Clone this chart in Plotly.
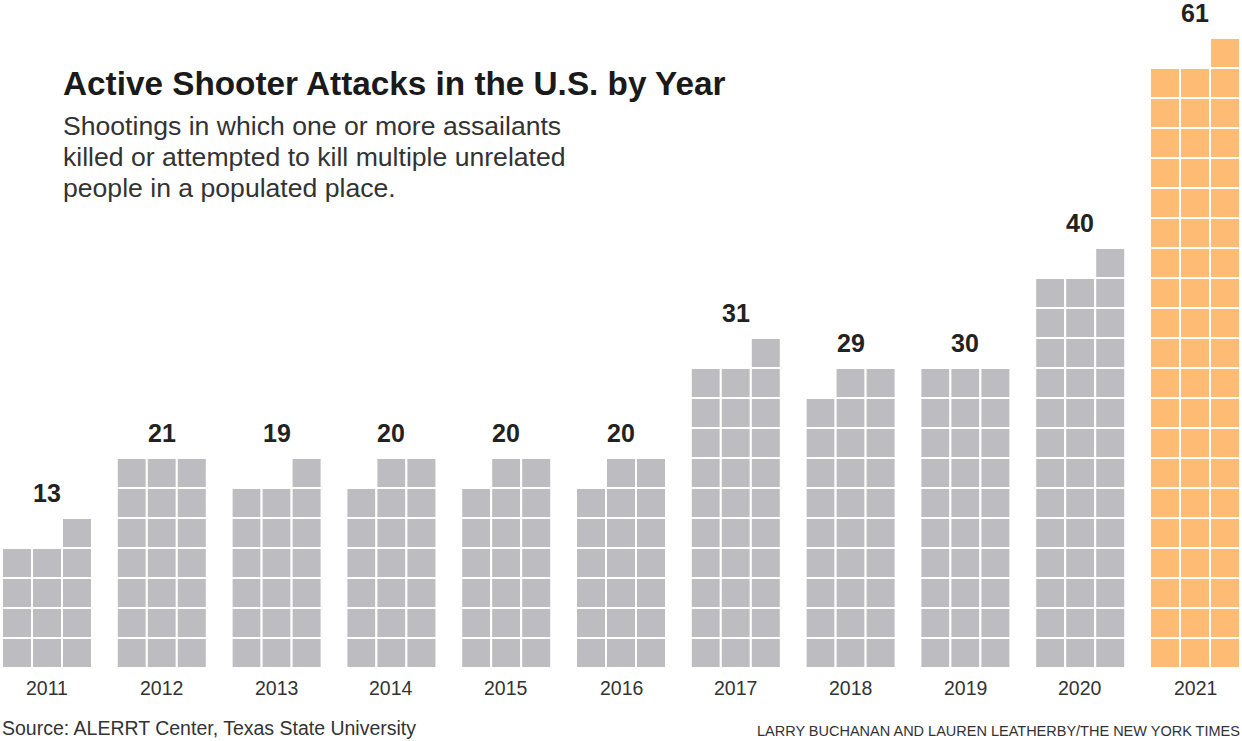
import plotly.graph_objects as go

years = ["2011", "2012", "2013", "2014", "2015", "2016", "2017", "2018", "2019", "2020", "2021"]
counts = [13, 21, 19, 20, 20, 20, 31, 29, 30, 40, 61]
highlight = ["2021"]
title = "Active Shooter Attacks in the U.S. by Year"
subtitle_lines = [
    "Shootings in which one or more assailants",
    "killed or attempted to kill multiple unrelated",
    "people in a populated place.",
]
source = "Source: ALERRT Center, Texas State University"
credit = "LARRY BUCHANAN AND LAUREN LEATHERBY/THE NEW YORK TIMES"

GRAY = "#bdbdc1"
ORANGE = "#fdbb74"
FONT = "Liberation Sans, Arial, sans-serif"
COLS = 3
CELL = 30          # px per cell (x axis uses pixel units)
PITCH = 114.8      # px between year groups
X0 = 2             # left edge of first group

cx, cbase, ccol = [], [], []
group_centers, tops = [], []
for i, (yr, n) in enumerate(zip(years, counts)):
    full, rem = divmod(n, COLS)
    left = X0 + PITCH * i
    col = ORANGE if yr in highlight else GRAY
    top = 0
    for c in range(COLS):
        h = full + (1 if c >= COLS - rem and rem > 0 else 0)
        top = max(top, h)
        for r in range(h):
            cx.append(left + CELL * c + CELL / 2)
            cbase.append(r)
            ccol.append(col)
    group_centers.append(left + CELL * COLS / 2)
    tops.append(top)

fig = go.Figure(go.Bar(
    x=cx, y=[1] * len(cx), base=cbase, width=CELL,
    marker=dict(color=ccol, line=dict(color="white", width=2)),
    hoverinfo="skip",
))

W, H = 1242, 741
BOTTOM = 73
plot_h = H - BOTTOM

ann = []
for xc, yr, n, t in zip(group_centers, years, counts, tops):
    ann.append(dict(x=xc, y=t, xref="x", yref="y", text=f"<b>{n}</b>", showarrow=False,
                    yshift=25, yanchor="middle", font=dict(size=25, color="#222222", family=FONT)))
    ann.append(dict(x=xc, y=0, xref="x", yref="y", text=yr, showarrow=False,
                    yshift=-20, yanchor="middle", font=dict(size=19.5, color="#333333", family=FONT)))

ann.append(dict(x=61 / W, y=1 - 83 / plot_h, xref="paper", yref="paper", xanchor="left", yanchor="middle",
                text=f"<b>{title}</b>", showarrow=False,
                font=dict(size=33.3, color="#1a1a1a", family=FONT)))
for k, line in enumerate(subtitle_lines):
    ann.append(dict(x=61 / W, y=1 - (126 + 31 * k) / plot_h, xref="paper", yref="paper",
                    xanchor="left", yanchor="middle", align="left", showarrow=False, text=line,
                    font=dict(size=26.6, color="#333333", family=FONT)))
ann.append(dict(x=0, y=0, xref="paper", yref="paper", xanchor="left", yanchor="middle", yshift=-60,
                text=source, showarrow=False,
                font=dict(size=19.5, color="#333333", family=FONT)))
ann.append(dict(x=1, y=0, xref="paper", yref="paper", xanchor="right", yanchor="middle", yshift=-63,
                text=credit, showarrow=False,
                font=dict(size=14.5, color="#333333", family=FONT)))

fig.update_layout(
    width=W, height=H,
    margin=dict(l=0, r=0, t=0, b=BOTTOM, pad=0),
    paper_bgcolor="white", plot_bgcolor="white",
    barmode="overlay", showlegend=False,
    xaxis=dict(range=[0, W], visible=False, fixedrange=True),
    yaxis=dict(range=[0, plot_h / CELL], visible=False, fixedrange=True),
    annotations=ann,
)

fig.write_html("out.html", config={"displayModeBar": False},
               post_script="document.body.style.margin='0';document.body.style.overflow='hidden';")
